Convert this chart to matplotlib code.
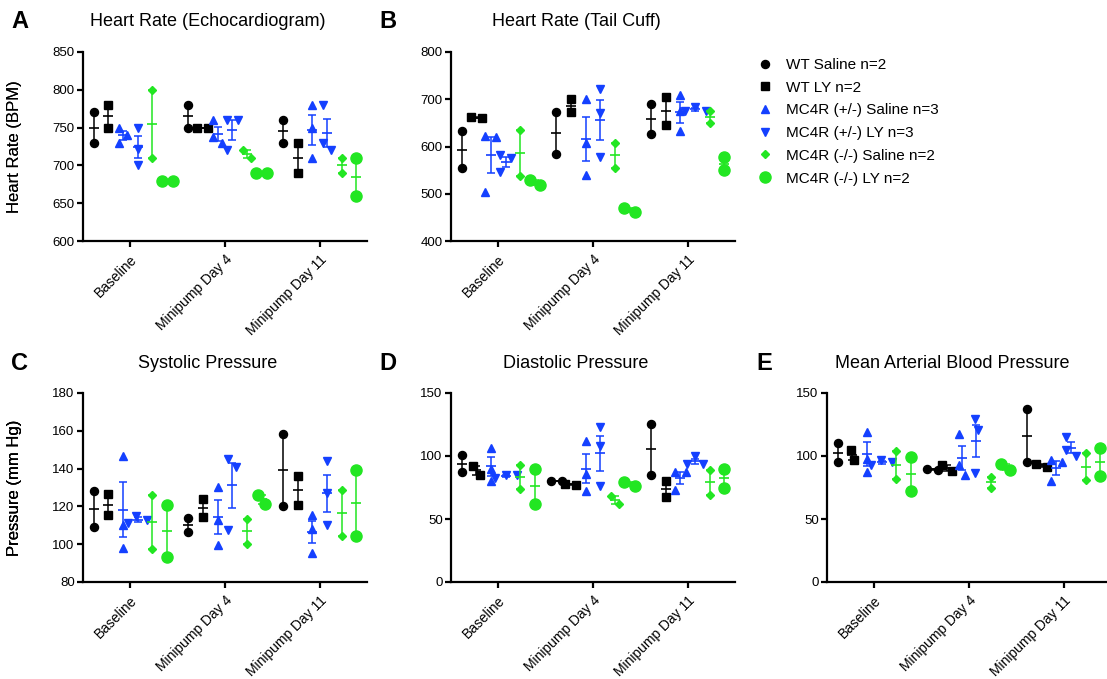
import numpy as np
import matplotlib
matplotlib.use('Agg')
from matplotlib import pyplot as plt
from matplotlib.lines import Line2D

plt.rcParams['font.family'] = ['Liberation Sans', 'DejaVu Sans']

timepoints = ['Baseline', 'Minipump Day 4', 'Minipump Day 11']
group_names = ['WT Saline n=2', 'WT LY n=2', 'MC4R (+/-) Saline n=3',
               'MC4R (+/-) LY n=3', 'MC4R (-/-) Saline n=2', 'MC4R (-/-) LY n=2']

BLUE = '#1440ff'
GREEN = '#22e622'
colors = ['black', 'black', BLUE, BLUE, GREEN, GREEN]
markers = ['o', 's', '^', 'v', 'D', 'o']
msizes = [5.8, 5.6, 5.4, 5.4, 3.6, 8.0]

# each group: values at baseline, day 4, day 11
hr_echo = [
    [[770, 730], [780, 750], [760, 730]],
    [[780, 750], [750, 750], [730, 690]],
    [[750, 740, 730], [760, 737, 729], [780, 750, 710]],
    [[750, 722, 700], [760, 760, 720], [780, 730, 720]],
    [[800, 710], [721, 710], [710, 690]],
    [[680, 680], [690, 690], [710, 660]],
]
hr_tail = [
    [[632, 555], [674, 585], [690, 626]],
    [[662, 660], [700, 673], [705, 645]],
    [[622, 620, 504], [700, 608, 540], [710, 675, 632]],
    [[582, 575, 545], [722, 670, 578], [684, 676, 675]],
    [[634, 537], [608, 555], [676, 650]],
    [[530, 518], [470, 462], [578, 550]],
]
systolic = [
    [[128, 109], [114, 106.5], [158.5, 120]],
    [[126.5, 115.5], [124, 114.5], [136, 121]],
    [[146.5, 110, 98], [130.5, 113, 99.5], [115.5, 108, 95.5]],
    [[115, 113, 111], [145, 141, 107.5], [144, 127, 110]],
    [[126, 97.5], [113.5, 100], [128.5, 104.5]],
    [[121, 93], [126, 121.5], [139, 104.5]],
]
diastolic = [
    [[101, 87], [80, 80], [125.5, 85]],
    [[92, 85], [78, 77], [80, 67.5]],
    [[106, 90, 80], [112, 86, 72], [87, 87, 73]],
    [[85, 85, 82.5], [123, 108, 76], [100, 94, 94]],
    [[93, 73.5], [68.5, 62], [89, 69]],
    [[90, 62], [79, 76], [90, 75]],
]
mabp = [
    [[110, 95], [89, 90], [137, 95]],
    [[105, 96.5], [93, 88], [94, 91]],
    [[119, 98, 87], [117.5, 92.5, 85], [97, 95, 80]],
    [[97, 93, 95], [129, 120.5, 86.5], [115, 105, 100]],
    [[104, 82], [83.5, 74.5], [102, 81]],
    [[99, 72.5], [94, 88.5], [106, 84]],
]


def swarm(vals, px_per_unit, d=11.0):
    # simple beeswarm: spread points that would overlap
    vals = np.asarray(vals, float)
    steps = np.arange(0.5, 40, 0.5)
    cands = np.concatenate([[0], np.repeat(steps, 2) * np.tile([1, -1], len(steps))])
    placed = []
    offs = np.zeros(len(vals))
    for i in np.argsort(vals)[::-1]:
        y = vals[i] * px_per_unit
        for c in cands:
            if all((c - px) ** 2 + (y - py) ** 2 >= d * d for px, py in placed):
                break
        placed.append((c, y))
        offs[i] = c
    offs -= (offs.max() + offs.min()) / 2
    return offs


fig = plt.figure(figsize=(11.07, 6.79), dpi=100)
W, H = 1107, 679


def panel(left, top, data, ylim, yticks, ylabel, title, letter):
    w, h = 284, 189
    ax = fig.add_axes([left / W, 1 - (top + h) / H, w / W, h / H])
    ax.set_xlim(-0.5, 2.5)
    ax.set_ylim(*ylim)
    ypx = h / (ylim[1] - ylim[0])
    xunit = 3.0 / w
    for g, gdata in enumerate(data):
        for t, vals in enumerate(gdata):
            xc = t + (g - 2.5) * 0.155
            offs = swarm(vals, ypx) * xunit
            ax.plot(xc + offs, vals, linestyle='none', marker=markers[g],
                    ms=msizes[g], color=colors[g], mec=colors[g], zorder=2,
                    clip_on=False)
            v = np.asarray(vals, float)
            m = v.mean()
            sem = v.std(ddof=1) / np.sqrt(len(v))
            ax.errorbar([xc], [m], yerr=[sem], fmt='none', ecolor=colors[g],
                        elinewidth=1.1, capsize=2.6, capthick=1.1, zorder=3)
            ax.plot([xc], [m], marker='_', ms=7.5, mew=1.2, color=colors[g],
                    zorder=3)
    for s in ['top', 'right']:
        ax.spines[s].set_visible(False)
    for s in ['left', 'bottom']:
        ax.spines[s].set_linewidth(1.6)
    ax.set_yticks(yticks)
    ax.set_xticks(range(3))
    ax.set_xticklabels(timepoints, rotation=45, ha='right', va='top',
                       rotation_mode='anchor', fontsize=10)
    ax.tick_params(axis='both', direction='out', length=4, width=1.6,
                   labelsize=9.5, pad=2)
    ax.tick_params(axis='x', labelsize=10, pad=4)
    ax.set_ylabel(ylabel, fontsize=12)
    ax.yaxis.set_label_coords(-(left - 22) / w, 0.5)
    ax.text(0.44, 1 + 30 / h, title, transform=ax.transAxes, ha='center',
            va='center', fontsize=13)
    fig.text((left - 63) / W, 1 - (top - 30) / H, letter, ha='center',
             va='center', fontsize=17, fontweight='bold')
    return ax


panel(83, 52, hr_echo, (600, 850), range(600, 851, 50), 'Heart Rate (BPM)',
      'Heart Rate (Echocardiogram)', 'A')
panel(451, 52, hr_tail, (400, 800), range(400, 801, 100), 'Heart Rate (BPM)',
      'Heart Rate (Tail Cuff)', 'B')
panel(83, 393, systolic, (80, 180), range(80, 181, 20), 'Pressure (mm Hg)',
      'Systolic Pressure', 'C')
panel(451, 393, diastolic, (0, 150), range(0, 151, 50), 'Pressure (mm Hg)',
      'Diastolic Pressure', 'D')
panel(827, 393, mabp, (0, 150), range(0, 151, 50), 'Pressure (mm Hg)',
      'Mean Arterial Blood Pressure', 'E')

handles = [Line2D([], [], linestyle='none', marker=markers[g], ms=msizes[g],
                  color=colors[g]) for g in range(6)]
fig.legend(handles, group_names, loc='upper left',
           bbox_to_anchor=(759 / W, 1 - 58 / H), frameon=False, fontsize=11,
           handlelength=0.8, handletextpad=1.0, labelspacing=0.57,
           borderpad=0, borderaxespad=0, numpoints=1)

fig.savefig('out.png', dpi=100)
